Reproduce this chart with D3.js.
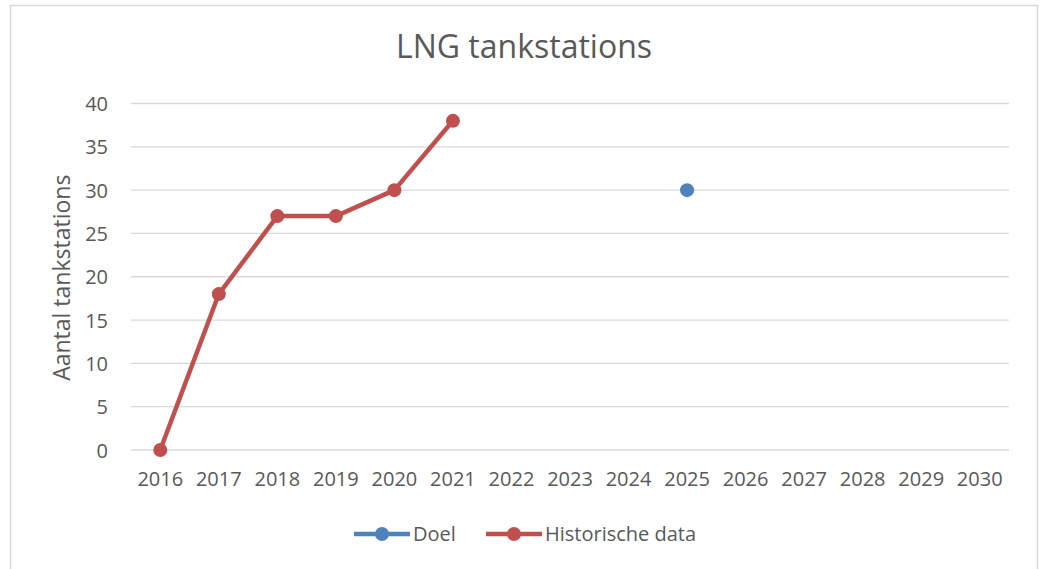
<!DOCTYPE html>
<html>
<head>
<meta charset="utf-8">
<script src="https://cdn.jsdelivr.net/npm/d3@7"></script>
<style>
  body { margin: 0; background: #fff; }
  text { font-family: "Open Sans", "Liberation Sans", sans-serif; fill: #595959; }
</style>
</head>
<body>
<div id="chart"></div>
<script>
(function() {
    var years = ["2016", "2017", "2018", "2019", "2020", "2021", "2022", "2023",
                 "2024", "2025", "2026", "2027", "2028", "2029", "2030"];
    var historischYears = ["2016", "2017", "2018", "2019", "2020", "2021"];
    var historischValues = [0, 18, 27, 27, 30, 38];
    var doelYears = ["2025"];
    var doelValues = [30];
    var yTicks = [0, 5, 10, 15, 20, 25, 30, 35, 40];

    var width = 1040, height = 569;
    var plot = { left: 131, right: 1009, top: 103.5, bottom: 450 };

    var svg = d3.select("#chart")
        .append("svg")
        .attr("width", width)
        .attr("height", height);

    // chart frame
    svg.append("rect")
        .attr("x", 10.5).attr("y", 5.5)
        .attr("width", 1027).attr("height", 580)
        .attr("fill", "#fff")
        .attr("stroke", "#d9d9d9")
        .attr("stroke-width", 1.5);

    var x = d3.scaleBand()
        .domain(years)
        .range([plot.left, plot.right]);

    var y = d3.scaleLinear()
        .domain([0, 40])
        .range([plot.bottom, plot.top]);

    // gridlines
    svg.append("g")
        .selectAll("line")
        .data(yTicks)
        .enter().append("line")
        .attr("x1", plot.left)
        .attr("x2", plot.right)
        .attr("y1", d => y(d))
        .attr("y2", d => y(d))
        .attr("stroke", "#d9d9d9")
        .attr("stroke-width", 1.3);

    // y axis labels
    var yAxis = svg.append("g")
        .attr("transform", "translate(" + (plot.left - 23) + ",0)")
        .call(d3.axisLeft(y).tickValues(yTicks).tickSize(0).tickPadding(0));
    yAxis.select(".domain").remove();
    yAxis.selectAll("text")
        .style("font-size", "20px")
        .attr("fill", "#595959")
        .attr("dy", "0.35em");

    // x axis labels
    var xAxis = svg.append("g")
        .attr("transform", "translate(0," + (plot.bottom + 24) + ")")
        .call(d3.axisBottom(x).tickSize(0).tickPadding(0));
    xAxis.select(".domain").remove();
    xAxis.selectAll("text")
        .style("font-size", "20px")
        .attr("fill", "#595959")
        .attr("dy", "0.6em");

    // title
    svg.append("text")
        .attr("x", 524)
        .attr("y", 58)
        .attr("text-anchor", "middle")
        .style("font-size", "32px")
        .text("LNG tankstations");

    // y axis title
    svg.append("text")
        .attr("transform", "translate(70," + ((plot.top + plot.bottom) / 2 + 1) + ") rotate(-90)")
        .attr("text-anchor", "middle")
        .style("font-size", "23px")
        .text("Aantal tankstations");

    var cx = d => x(d) + x.bandwidth() / 2;

    var line = d3.line()
        .x(d => cx(d.year))
        .y(d => y(d.value));

    var series = [
        { name: "Doel", color: "#4f81bd",
          data: doelYears.map((yr, i) => ({ year: yr, value: doelValues[i] })) },
        { name: "Historische data", color: "#c0504d",
          data: historischYears.map((yr, i) => ({ year: yr, value: historischValues[i] })) }
    ];

    series.forEach(function(s) {
        svg.append("path")
            .datum(s.data)
            .attr("d", line)
            .attr("fill", "none")
            .attr("stroke", s.color)
            .attr("stroke-width", 4.5)
            .attr("stroke-linejoin", "round");
        svg.append("g")
            .selectAll("circle")
            .data(s.data)
            .enter().append("circle")
            .attr("cx", d => cx(d.year))
            .attr("cy", d => y(d.value))
            .attr("r", 7)
            .attr("fill", s.color);
    });

    // legend
    var legendX = [354, 486];
    var legend = svg.append("g")
        .selectAll("g")
        .data(series)
        .enter().append("g")
        .attr("transform", (d, i) => "translate(" + legendX[i] + ",534)");
    legend.append("line")
        .attr("x1", 0).attr("x2", 56)
        .attr("stroke", d => d.color)
        .attr("stroke-width", 4.5);
    legend.append("circle")
        .attr("cx", 28)
        .attr("r", 7)
        .attr("fill", d => d.color);
    legend.append("text")
        .attr("x", 59)
        .attr("dy", "0.35em")
        .style("font-size", "20px")
        .text(d => d.name);
})();
</script>
</body>
</html>
